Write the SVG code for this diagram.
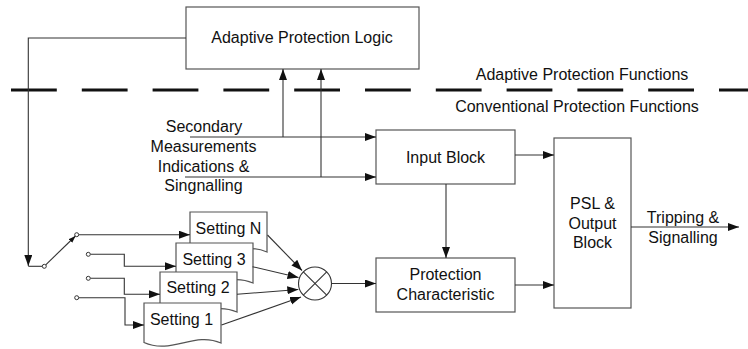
<svg xmlns="http://www.w3.org/2000/svg" width="748" height="349" viewBox="0 0 748 349">
<style>
text{font-family:"Liberation Sans",Arial,sans-serif;font-size:16px;fill:#111;text-anchor:middle}
.box{fill:#fff;stroke:#555;stroke-width:1.2}
.ln{fill:none;stroke:#333;stroke-width:1.1}
.arr{marker-end:url(#ah)}
.term{fill:#fff;stroke:#333;stroke-width:1}
</style>
<defs>
<marker id="ah" markerUnits="userSpaceOnUse" markerWidth="12" markerHeight="10" refX="11" refY="4" orient="auto">
<path d="M0,0 L11,4 L0,8 Z" fill="#111"/>
</marker>
<marker id="ahs" markerUnits="userSpaceOnUse" markerWidth="8" markerHeight="6" refX="7" refY="2.5" orient="auto">
<path d="M0,0 L7,2.5 L0,5 Z" fill="#111"/>
</marker>
<path id="doc" d="M0,0 H77 V40 C50,28 28,52 0,39.5 Z"/>
</defs>

<g id="adaptive-logic">
<rect class="box" x="186" y="7" width="233" height="62"/>
<text x="302" y="43">Adaptive Protection Logic</text>
</g>

<g id="divider">
<line x1="11" y1="90" x2="748" y2="90" stroke="#111" stroke-width="3" stroke-dasharray="45.8 25"/>
<text x="582" y="80">Adaptive Protection Functions</text>
<text x="577" y="112">Conventional Protection Functions</text>
</g>

<g id="secondary-label">
<text x="204" y="132">Secondary</text>
<text x="203.5" y="152">Measurements</text>
<text x="203.5" y="172">Indications &amp;</text>
<text x="203.5" y="191">Singnalling</text>
</g>

<g id="input-block">
<rect class="box" x="376" y="130" width="139" height="54"/>
<text x="445.5" y="163">Input Block</text>
</g>

<g id="protection-characteristic">
<rect class="box" x="376" y="258" width="139" height="54"/>
<text x="445.5" y="280">Protection</text>
<text x="445.5" y="300">Characteristic</text>
</g>

<g id="psl-output">
<rect class="box" x="554" y="138" width="77" height="170"/>
<text x="592.5" y="209">PSL &amp;</text>
<text x="592.5" y="229">Output</text>
<text x="592.5" y="248">Block</text>
</g>

<g id="output-label">
<text x="683" y="223">Tripping &amp;</text>
<text x="683" y="243">Signalling</text>
</g>

<g id="setting-n">
<use href="#doc" class="box" x="190" y="212"/>
<text x="228.5" y="234">Setting N</text>
</g>
<g id="setting-3">
<use href="#doc" class="box" x="176" y="243"/>
<text x="214" y="265">Setting 3</text>
</g>
<g id="setting-2">
<use href="#doc" class="box" x="160" y="272"/>
<text x="198" y="293">Setting 2</text>
</g>
<g id="setting-1">
<use href="#doc" class="box" x="144" y="303"/>
<text x="181.5" y="325">Setting 1</text>
</g>

<g id="combiner">
<circle cx="315" cy="283.5" r="16.5" fill="#fff" stroke="#333" stroke-width="1.1"/>
<line class="ln" x1="303.3" y1="271.8" x2="326.7" y2="295.2"/>
<line class="ln" x1="326.7" y1="271.8" x2="303.3" y2="295.2"/>
</g>

<g id="connectors">
<polyline class="ln" points="186,38 28.3,38 28.3,266" marker-end="url(#ah)"/>
<line class="ln arr" x1="283" y1="137" x2="283" y2="69"/>
<line class="ln arr" x1="321" y1="177" x2="321" y2="69"/>
<line class="ln arr" x1="190" y1="137" x2="376" y2="137"/>
<line class="ln arr" x1="185" y1="177" x2="376" y2="177"/>
<line class="ln arr" x1="515" y1="155" x2="554" y2="155"/>
<line class="ln arr" x1="446" y1="184" x2="446" y2="258"/>
<line class="ln arr" x1="515" y1="285" x2="554" y2="285"/>
<line class="ln arr" x1="631" y1="227" x2="739" y2="227"/>
<line class="ln arr" x1="331.5" y1="283.5" x2="376" y2="283.5"/>
<line class="ln" x1="28.3" y1="266.3" x2="42.3" y2="266.3"/>
<line class="ln" x1="45.7" y1="264.8" x2="75.5" y2="236" marker-end="url(#ahs)"/>
<line class="ln arr" x1="78.7" y1="234.7" x2="190" y2="234.7"/>
<polyline class="ln arr" points="90.3,254.3 124.3,254.3 124.3,266.3 176,266.3"/>
<polyline class="ln arr" points="90.3,278.3 124.3,278.3 124.3,294.3 160,294.3"/>
<polyline class="ln arr" points="78.7,297.7 125,297.7 125,325 144,325"/>
<line class="ln arr" x1="267.5" y1="235" x2="302" y2="270.5"/>
<line class="ln arr" x1="252.5" y1="266.7" x2="298.5" y2="277.5"/>
<line class="ln arr" x1="237" y1="294.3" x2="298.3" y2="289.5"/>
<line class="ln arr" x1="221.5" y1="325" x2="301" y2="297"/>
<circle class="term" cx="44.3" cy="266.3" r="2"/>
<circle class="term" cx="76.7" cy="234.7" r="2"/>
<circle class="term" cx="88.3" cy="254.3" r="2"/>
<circle class="term" cx="88.3" cy="278.3" r="2"/>
<circle class="term" cx="76.7" cy="297.7" r="2"/>
</g>
</svg>
